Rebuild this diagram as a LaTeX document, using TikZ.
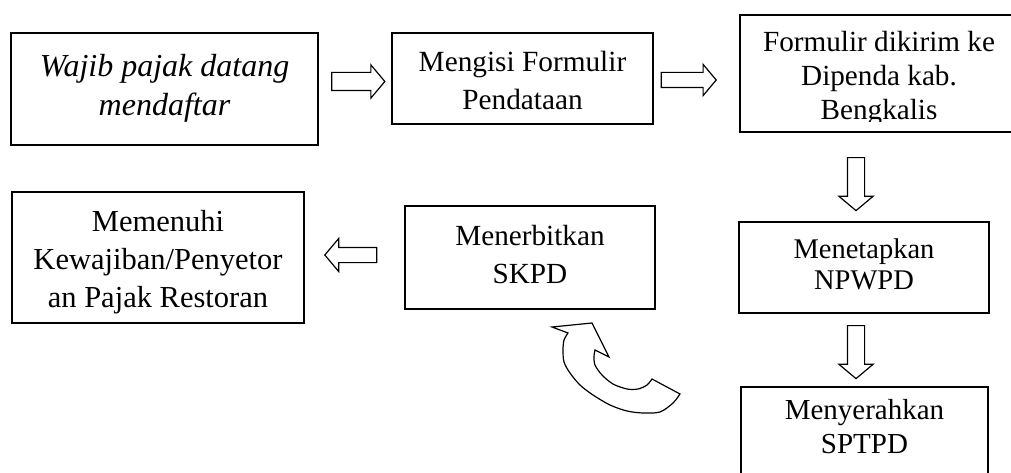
\documentclass[tikz,border=0pt]{standalone}
\usepackage{fontspec}
\setmainfont{Liberation Serif}
\usetikzlibrary{shapes.arrows}
\begin{document}
\begin{tikzpicture}[x=1pt,y=-1pt,
  box/.style={draw=black, line width=2.6pt, rectangle, inner sep=0pt},
  midbox/.style={box, line width=2.4pt},
  thinbox/.style={box, line width=2pt},
  txt/.style={align=center, inner sep=0pt},
  blk/.style={draw=black, line width=1.2pt, single arrow, inner sep=8pt, single arrow tip angle=100, anchor=center}]
\useasboundingbox (0,0) rectangle (1011,473);
\clip (0,0) rectangle (1011,473);

% boxes
\node[box, minimum width=307pt, minimum height=112pt] (b1) at (164.5,89) {};
\node[txt, font=\fontsize{32}{39}\selectfont\itshape] (b1t) at ([yshift=1pt]b1.center) {Wajib pajak datang\\mendaftar};
\node[box, minimum width=261pt, minimum height=91pt] (b2) at (522.5,78.5) {};
\node[txt, font=\fontsize{29.3}{38}\selectfont] (b2t) at ([yshift=-2pt]b2.center) {Mengisi Formulir\\Pendataan};
\node[box, minimum width=278pt, minimum height=117pt] (b3) at (879,73.5) {};
\begin{scope}
  \clip (740,15) rectangle (1018,122);
  \node[txt, font=\fontsize{29.2}{34}\selectfont] (b3t) at (879,79) {Formulir dikirim ke\\Dipenda kab.\\Bengkalis};
\end{scope}
\node[thinbox, minimum width=250pt, minimum height=91pt] (b4) at (864,267.5) {};
\node[txt, font=\fontsize{28.5}{31}\selectfont] (b4t) at ([yshift=3pt]b4.center) {Menetapkan\\NPWPD};
\node[thinbox, minimum width=247pt, minimum height=90pt] (b5) at (864.5,432) {};
\node[txt, font=\fontsize{29}{34}\selectfont] (b5t) at ([yshift=5pt]b5.center) {Menyerahkan\\SPTPD};
\node[midbox, minimum width=250pt, minimum height=103pt] (b7) at (530,257.5) {};
\node[txt, font=\fontsize{29.2}{38}\selectfont] (b7t) at ([yshift=3pt]b7.center) {Menerbitkan\\SKPD};
\node[midbox, minimum width=292pt, minimum height=131pt] (b6) at (158,257.5) {};
\node[txt, font=\fontsize{30.5}{38}\selectfont] (b6t) at ([yshift=-5pt]b6.center) {Memenuhi\\Kewajiban/Penyetor\\an Pajak Restoran};

% block arrows
\node[blk, minimum height=53pt, minimum width=32pt, single arrow head extend=7.5pt, inner sep=8.5pt] (a1) at (354.5,81.5) {};
\node[blk, minimum height=55pt, minimum width=30pt, single arrow head extend=8pt, inner sep=7pt] (a2) at (685.5,80) {};
\node[blk, minimum height=53pt, minimum width=33pt, single arrow head extend=8.5pt, inner sep=8pt, shape border rotate=270] (a3) at (856,180.5) {};
\node[blk, minimum height=53pt, minimum width=33pt, single arrow head extend=8.5pt, inner sep=8pt, shape border rotate=270] (a4) at (856,348.5) {};
\node[blk, minimum height=52pt, minimum width=32pt, single arrow head extend=9pt, inner sep=7pt, shape border rotate=180] (a5) at (354,255) {};

% curved arrow
\draw[line width=1.2pt, line join=miter]
  (568,333) -- (552,327) -- (592,323) -- (609,357) -- (595,350)
  -- plot[smooth] coordinates {(595,350) (594,356) (595,365) (602,375) (613,384) (627,389) (638,389) (647,385) (652,379)}
  -- (680,394)
  -- plot[smooth] coordinates {(680,394) (673,403) (660,412) (643,413) (627,411) (610,405) (593,395) (580,385) (570,373) (564,362) (563,350) (564,340) (568,333)}
  -- cycle;
\end{tikzpicture}
\end{document}
